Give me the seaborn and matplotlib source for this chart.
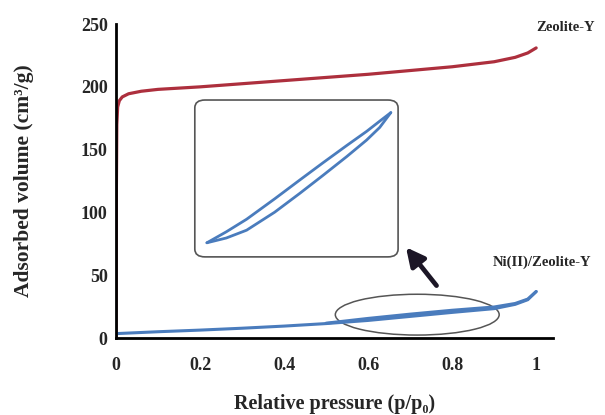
import numpy as np
import pandas as pd
import matplotlib
matplotlib.use('Agg')
import matplotlib.pyplot as plt
import seaborn as sns
from matplotlib.patches import Ellipse, FancyBboxPatch

sns.set_style('white')
plt.rcParams['font.family'] = ['Liberation Serif', 'DejaVu Serif']
plt.rcParams['font.weight'] = 'bold'

# Zeolite-Y isotherm
zeo_p = [0.0, 0.001, 0.002, 0.004, 0.008, 0.015, 0.03, 0.06, 0.1, 0.2, 0.3, 0.4,
         0.5, 0.6, 0.7, 0.8, 0.9, 0.95, 0.98, 1.0]
zeo_v = [0, 120, 170, 184, 189, 192, 194.5, 196.5, 198, 200, 202.5, 205,
         207.5, 210, 213, 216, 220, 223.5, 227, 231]

# Ni(II)/Zeolite-Y, adsorption and desorption branches
ni_p_ads = [0.0, 0.1, 0.2, 0.3, 0.4, 0.5, 0.6, 0.7, 0.8, 0.9, 0.95, 0.98, 1.0]
ni_v_ads = [3.5, 5.0, 6.3, 7.8, 9.5, 11.5, 14.0, 17.2, 20.4, 23.4, 26.8, 30.5, 37]
ni_p_des = [0.5, 0.6, 0.7, 0.8, 0.9, 0.95, 0.98, 1.0]
ni_v_des = [11.8, 15.6, 19.0, 22.1, 24.7, 27.5, 31, 37]

# inset: zoom of the hysteresis loop
ins_p = [0.550, 0.590, 0.632, 0.690, 0.742, 0.790, 0.839, 0.880, 0.907, 0.930]
ins_v_ads = [13.0, 13.44, 14.16, 15.82, 17.56, 19.22, 20.95, 22.47, 23.63, 25.0]
ins_v_des = [13.0, 14.01, 15.17, 17.05, 18.79, 20.38, 21.97, 23.27, 24.21, 25.0]

x_ticks = [0, 0.2, 0.4, 0.6, 0.8, 1.0]
x_labels = ['0', '0.2', '0.4', '0.6', '0.8', '1']
y_ticks = [0, 50, 100, 150, 200, 250]

red = '#ad2f3d'
blue = '#4a7cbd'

fig = plt.figure(figsize=(6.05, 4.15), dpi=100)
ax = fig.add_axes([0.1917, 0.1855, 0.7223, 0.7565])

zeo = pd.DataFrame({'p': zeo_p, 'v': zeo_v})
sns.lineplot(data=zeo, x='p', y='v', sort=False, color=red, lw=2.3, ax=ax)
sns.lineplot(x=ni_p_ads, y=ni_v_ads, sort=False, color=blue, lw=2.2, ax=ax)
sns.lineplot(x=ni_p_des, y=ni_v_des, sort=False, color=blue, lw=2.2, ax=ax)

ax.set_xlim(0, 1.04)
ax.set_ylim(0, 250)
ax.set_xticks(x_ticks)
ax.set_xticklabels(x_labels)
ax.set_yticks(y_ticks)
ax.tick_params(axis='both', labelsize=13, color='#b0b0b0', length=4, width=1,
               direction='out')
ax.tick_params(axis='x', pad=10)
ax.tick_params(axis='y', pad=2)
for lab in ax.get_xticklabels() + ax.get_yticklabels():
    lab.set_fontweight('bold')
sns.despine(ax=ax)
for s in ['left', 'bottom']:
    ax.spines[s].set_linewidth(2)
    ax.spines[s].set_color('black')

ax.set_xlabel('Relative pressure (p/p₀)', fontsize=14.5, fontweight='bold', labelpad=14)
ax.set_ylabel('Adsorbed volume (cm³/g)', fontsize=15.5, fontweight='bold', labelpad=34)

ax.text(1.069, 247, 'Zeolite-Y', fontsize=10.5, fontweight='bold', ha='center',
        va='center', clip_on=False)
ax.text(1.015, 60, 'Ni(II)/Zeolite-Y', fontsize=10.5, fontweight='bold', ha='center',
        va='center', clip_on=False)

# ellipse around the hysteresis region
ax.add_patch(Ellipse((0.717, 18.6), 0.39, 32.5, fill=False, ec='#555555', lw=1.1))

# arrow pointing to the inset
ax.annotate('', xy=(0.686, 74), xytext=(0.767, 40),
            arrowprops=dict(arrowstyle='-|>,head_length=1.1,head_width=0.55',
                            color='#1c1626', lw=3.4))

# inset with rounded frame
ins = fig.add_axes([0.322, 0.381, 0.336, 0.378])
sns.lineplot(x=ins_p, y=ins_v_ads, sort=False, color=blue, lw=2, ax=ins)
sns.lineplot(x=ins_p, y=ins_v_des, sort=False, color=blue, lw=2, ax=ins)
ins.set_xlim(0.525, 0.945)
ins.set_ylim(11.7, 26.16)
ins.set_xticks([])
ins.set_yticks([])
ins.set_xlabel('')
ins.set_ylabel('')
for s in ins.spines.values():
    s.set_visible(False)
ins.patch.set_alpha(0)
ins.add_patch(FancyBboxPatch((0, 0), 1, 1, boxstyle='round,pad=0,rounding_size=0.05',
                             transform=ins.transAxes, fill=False, ec='#555555',
                             lw=1.2, clip_on=False))

fig.savefig('out.png', dpi=100)
